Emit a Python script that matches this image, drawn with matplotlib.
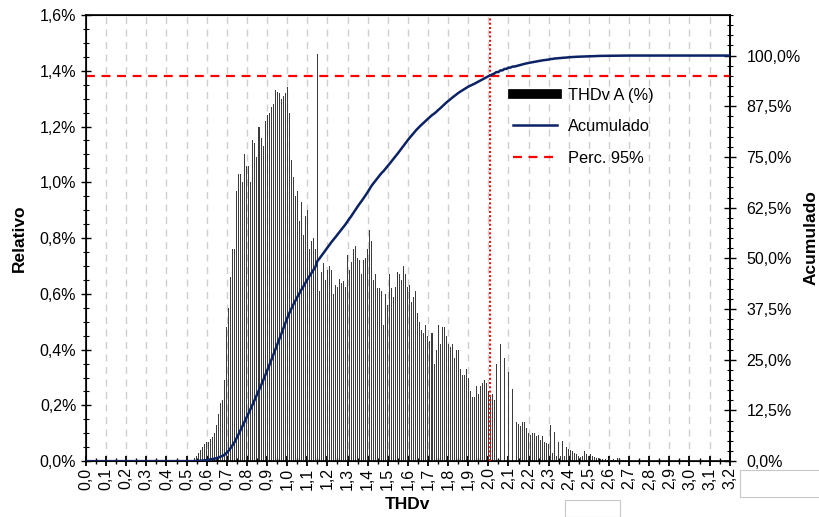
import numpy as np
import matplotlib
matplotlib.use("Agg")
import matplotlib.pyplot as plt
from matplotlib.lines import Line2D
from matplotlib.ticker import FuncFormatter, MultipleLocator
from matplotlib.patches import Rectangle

plt.rcParams["font.family"] = ["Liberation Sans", "DejaVu Sans"]

# THDv histogram: bin width 0.01, first bin 0.53
BIN_START = 0.53
BIN_STEP = 0.01
rel_pct = [
    0.005, 0.01, 0.02, 0.03, 0.04, 0.05, 0.06,                     # 0.53-0.59
    0.07, 0.07, 0.08, 0.085, 0.10, 0.13, 0.17, 0.21, 0.22, 0.29,   # 0.60-0.69
    0.48, 0.55, 0.66, 0.76, 0.76, 0.97, 1.03, 1.03, 1.00, 1.10,    # 0.70-0.79
    1.06, 1.06, 1.00, 1.15, 1.14, 1.09, 1.20, 1.16, 1.13, 1.22,    # 0.80-0.89
    1.24, 1.25, 1.27, 1.28, 1.33, 1.325, 1.32, 1.30, 1.31, 1.32,   # 0.90-0.99
    1.34, 1.25, 1.08, 1.02, 0.95, 0.97, 0.86, 0.93, 0.81, 0.88,    # 1.00-1.09
    0.90, 0.76, 0.79, 0.80, 0.76, 1.46, 0.61, 0.68, 0.71, 0.65,    # 1.10-1.19
    0.685, 0.70, 0.685, 0.60, 0.63, 0.625, 0.655, 0.64, 0.645, 0.625,  # 1.20-1.29
    0.74, 0.685, 0.715, 0.76, 0.77, 0.73, 0.72, 0.67, 0.72, 0.73,  # 1.30-1.39
    0.76, 0.83, 0.79, 0.65, 0.67, 0.62, 0.62, 0.61, 0.49, 0.60,    # 1.40-1.49
    0.56, 0.67, 0.62, 0.59, 0.625, 0.68, 0.67, 0.65, 0.70, 0.67,   # 1.50-1.59
    0.625, 0.63, 0.57, 0.59, 0.61, 0.53, 0.50, 0.47, 0.46, 0.49,   # 1.60-1.69
    0.45, 0.43, 0.46, 0.35, 0.40, 0.49, 0.42, 0.48, 0.48, 0.45,    # 1.70-1.79
    0.42, 0.41, 0.42, 0.37, 0.40, 0.40, 0.33, 0.31, 0.31, 0.33,    # 1.80-1.89
    0.30, 0.25, 0.23, 0.23, 0.27, 0.24, 0.27, 0.28, 0.29, 0.28,    # 1.90-1.99
    0.25, 0.23, 0.24, 0.22, 0.35, 0.0, 0.42, 0.0, 0.37, 0.0,       # 2.00-2.09
    0.32, 0.0, 0.26, 0.0, 0.14, 0.135, 0.125, 0.14, 0.14, 0.12,    # 2.10-2.19
    0.10, 0.095, 0.10, 0.10, 0.09, 0.095, 0.075, 0.09, 0.07, 0.065,  # 2.20-2.29
    0.06, 0.13, 0.03, 0.105, 0.02, 0.07, 0.02, 0.073, 0.02, 0.05,  # 2.30-2.39
    0.045, 0.04, 0.035, 0.03, 0.025, 0.02, 0.015, 0.018, 0.035, 0.025,  # 2.40-2.49
    0.02, 0.025, 0.018, 0.015, 0.01, 0.01, 0.008, 0.006, 0.006, 0.005,  # 2.50-2.59
    0.012, 0.004, 0.006, 0.004, 0.01, 0.013, 0.004, 0.005, 0.003, 0.002,  # 2.60-2.69
    0.003,                                                          # 2.70
]
thd_bins = np.round(BIN_START + BIN_STEP * np.arange(len(rel_pct)), 2)
rel_pct = np.array(rel_pct)

P95 = 2.01  # 95th percentile of THDv

# cumulative share, normalised to 100 %
acum = np.cumsum(rel_pct) / rel_pct.sum() * 100
acum_x = np.concatenate([[0.0], thd_bins, [3.2]])
acum_y = np.concatenate([[0.0], acum, [100.0]])

comma = lambda fmt: FuncFormatter(lambda v, p: (fmt % v).replace(".", ","))

fig = plt.figure(figsize=(8.19, 5.17), dpi=100)
ax = fig.add_axes([0.105, 0.108, 0.786, 0.863])
ax2 = ax.twinx()

ax.bar(thd_bins, rel_pct, width=0.005, color="#3c3c3c", edgecolor="none",
       linewidth=0, zorder=2)
ax.set_xlim(0, 3.2)
ax.set_ylim(0, 1.6)
for gx in np.arange(0.1, 3.15, 0.1):
    ax.axvline(gx, color="#cfcfcf", lw=1.0, ls=(0, (5, 4)), zorder=1)

ax.xaxis.set_major_locator(MultipleLocator(0.1))
ax.xaxis.set_minor_locator(MultipleLocator(0.05))
ax.xaxis.set_major_formatter(comma("%.1f"))
ax.yaxis.set_major_locator(MultipleLocator(0.2))
ax.yaxis.set_minor_locator(MultipleLocator(0.05))
ax.yaxis.set_major_formatter(comma("%.1f%%"))
ax.tick_params(axis="x", which="major", direction="inout", length=7, width=1.3,
               labelsize=11.5, labelrotation=90, pad=1)
ax.tick_params(axis="x", which="minor", direction="inout", length=5, width=1)
ax.tick_params(axis="y", which="major", direction="inout", length=7, width=1,
               labelsize=11.5)
ax.tick_params(axis="y", which="minor", direction="inout", length=4, width=0.8)
ax.set_xlabel("THDv", fontsize=12.5, fontweight="bold", labelpad=5)
ax.set_ylabel("Relativo", fontsize=12.5, fontweight="bold", labelpad=9)
for s in ax.spines.values():
    s.set_linewidth(1.2)

ax2.plot(acum_x, acum_y, color="#0b2265", lw=1.8, zorder=3)
ax2.axhline(95, color="red", lw=1.6, ls=(0, (4, 3)))
ax2.axvline(P95, color="red", lw=1.4, ls=(0, (1, 1.2)))
ax2.set_ylim(0, 110)
ax2.yaxis.set_minor_locator(MultipleLocator(2.5))
ax2.set_yticks([12.5 * i for i in range(9)])
ax2.yaxis.set_major_formatter(comma("%.1f%%"))
ax2.tick_params(axis="y", which="major", direction="inout", length=8, width=1,
                labelsize=11.5, pad=8)
ax2.tick_params(axis="y", which="minor", direction="inout", length=5, width=0.8)
ax2.set_ylabel("Acumulado", fontsize=12.5, fontweight="bold", rotation=90,
               labelpad=2)
ax2.spines["right"].set_linewidth(1.2)

handles = [
    Line2D([], [], color="black", lw=7),
    Line2D([], [], color="#0b2265", lw=1.8),
    Line2D([], [], color="red", lw=1.6, ls=(0, (4, 3))),
]
ax2.legend(handles, ["THDv A (%)", "Acumulado", "Perc. 95%"],
           loc="upper left", bbox_to_anchor=(0.64, 0.87), frameon=False,
           fontsize=11.8, handlelength=2.7, handletextpad=0.7,
           labelspacing=1.0)

# stray boxes at the bottom of the original capture
fig.patches.append(Rectangle((565 / 819, 0), 55 / 819, 17 / 517,
                             transform=fig.transFigure, fill=False,
                             edgecolor="#c8c8c8", lw=0.8))
fig.patches.append(Rectangle((740 / 819, 20 / 517), 80 / 819, 27 / 517,
                             transform=fig.transFigure, fill=False,
                             edgecolor="#c8c8c8", lw=0.8))

fig.savefig("out.png", dpi=100)
